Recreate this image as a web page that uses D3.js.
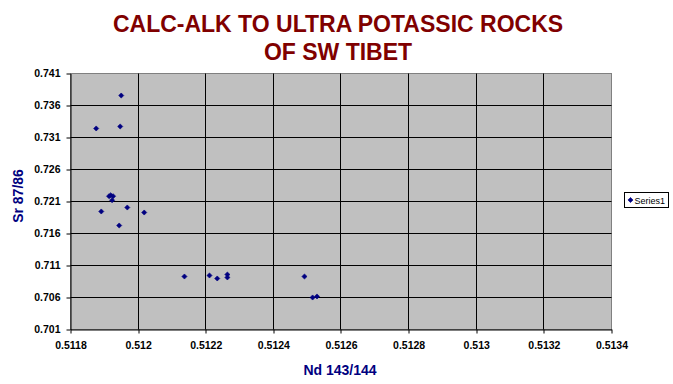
<!DOCTYPE html>
<html>
<head>
<meta charset="utf-8">
<script src="https://cdn.jsdelivr.net/npm/d3@7"></script>
<style>
  html, body { margin: 0; padding: 0; background: #fff; }
  svg { display: block; font-family: Arial, "Liberation Sans", sans-serif; }
</style>
</head>
<body>
<svg id="chart" width="673" height="384"></svg>
<script>
// ---- data ----
const ndValues = [0.51195, 0.511876, 0.511947, 0.511914, 0.511919, 0.511926, 0.511923, 0.511891, 0.511968, 0.512018, 0.511944, 0.512137, 0.512211, 0.512234, 0.512264, 0.512264, 0.512492, 0.512516, 0.512529];
const srValues = [0.73756, 0.73241, 0.73272, 0.72183, 0.72198, 0.72183, 0.72120, 0.71944, 0.72006, 0.71928, 0.71725, 0.70928, 0.70944, 0.70897, 0.70959, 0.70913, 0.70928, 0.70600, 0.70616];
const xTicks = [0.5118, 0.512, 0.5122, 0.5124, 0.5126, 0.5128, 0.513, 0.5132, 0.5134];
const yTicks = [0.701, 0.706, 0.711, 0.716, 0.721, 0.726, 0.731, 0.736, 0.741];
const xTickLabels = ["0.5118", "0.512", "0.5122", "0.5124", "0.5126", "0.5128", "0.513", "0.5132", "0.5134"];
const yTickLabels = ["0.701", "0.706", "0.711", "0.716", "0.721", "0.726", "0.731", "0.736", "0.741"];
const titleLines = ["CALC-ALK TO ULTRA POTASSIC ROCKS", "OF SW TIBET"];
const seriesName = "Series1";

// ---- layout ----
const svg = d3.select("#chart");
const pLeft = 70.5, pRight = 611.5, pTop = 73.5, pBottom = 329.5;

const x = d3.scaleLinear().domain([0.5118, 0.5134]).range([pLeft, pRight]);
const y = d3.scaleLinear().domain([0.701, 0.741]).range([pBottom, pTop]);
const snap = v => Math.round(v - 0.5) + 0.5;

// plot background
svg.append("rect")
  .attr("x", pLeft).attr("y", pTop)
  .attr("width", pRight - pLeft).attr("height", pBottom - pTop)
  .attr("fill", "#C0C0C0")
  .attr("stroke", "#808080").attr("stroke-width", 1);

// gridlines
const grid = svg.append("g");
grid.selectAll("line.h").data(yTicks.slice(1, -1)).join("line")
  .attr("x1", pLeft).attr("x2", pRight)
  .attr("y1", d => snap(y(d))).attr("y2", d => snap(y(d)))
  .attr("stroke", "#000").attr("stroke-width", 1);
grid.selectAll("line.v").data(xTicks.slice(1, -1)).join("line")
  .attr("y1", pTop).attr("y2", pBottom)
  .attr("x1", d => snap(x(d))).attr("x2", d => snap(x(d)))
  .attr("stroke", "#000").attr("stroke-width", 1);

// axes
const xAxis = d3.axisBottom(x).tickValues(xTicks)
  .tickFormat((d, i) => xTickLabels[i]).tickSizeOuter(0).tickSizeInner(4).tickPadding(8);
const gx = svg.append("g").attr("transform", `translate(0,${pBottom})`).call(xAxis);
gx.select(".domain").attr("stroke", "#000").attr("stroke-width", 1);
gx.selectAll(".tick line").attr("stroke", "#000")
  .attr("transform", d => `translate(${snap(x(d)) - x(d)},0)`);
gx.selectAll(".tick text").attr("font-size", "10.5px").attr("font-weight", "bold")
  .attr("fill", "#000").attr("font-family", "Arial, 'Liberation Sans', sans-serif");

const yAxis = d3.axisLeft(y).tickValues(yTicks)
  .tickFormat((d, i) => yTickLabels[i]).tickSizeOuter(0).tickSizeInner(4).tickPadding(6);
const gy = svg.append("g").attr("transform", `translate(${pLeft},0)`).call(yAxis);
gy.select(".domain").attr("stroke", "#000").attr("stroke-width", 1);
gy.selectAll(".tick line").attr("stroke", "#000")
  .attr("transform", d => `translate(0,${snap(y(d)) - y(d)})`);
gy.selectAll(".tick text").attr("font-size", "10.5px").attr("font-weight", "bold")
  .attr("fill", "#000").attr("font-family", "Arial, 'Liberation Sans', sans-serif");

// points
const sym = d3.symbol().type(d3.symbolSquare).size(13);
const pts = ndValues.map((v, i) => ({ x: v, y: srValues[i] }));
svg.append("g").selectAll("path").data(pts).join("path")
  .attr("d", sym)
  .attr("transform", d => `translate(${x(d.x)},${y(d.y)}) rotate(45)`)
  .attr("fill", "#000080").attr("stroke", "#000080").attr("stroke-width", 0.6);

// title
svg.append("g").selectAll("text").data(titleLines).join("text")
  .attr("x", 338).attr("y", (d, i) => 32 + i * 28)
  .attr("text-anchor", "middle")
  .attr("font-size", "23px").attr("font-weight", "bold")
  .attr("fill", "#800000")
  .text(d => d);

// axis titles
svg.append("text")
  .attr("x", 340).attr("y", 375)
  .attr("text-anchor", "middle")
  .attr("font-size", "14px").attr("font-weight", "bold")
  .attr("fill", "#000080")
  .text("Nd 143/144");

svg.append("text")
  .attr("transform", "translate(23,196) rotate(-90)")
  .attr("text-anchor", "middle")
  .attr("font-size", "14px").attr("font-weight", "bold")
  .attr("fill", "#000080")
  .text("Sr 87/86");

// legend
const lg = svg.append("g");
lg.append("rect").attr("x", 624.5).attr("y", 192.5).attr("width", 44).attr("height", 15)
  .attr("fill", "#fff").attr("stroke", "#000").attr("stroke-width", 1);
lg.append("path").attr("d", sym)
  .attr("transform", "translate(630.5,200) rotate(45)")
  .attr("fill", "#000080").attr("stroke", "#000080").attr("stroke-width", 0.6);
lg.append("text").attr("x", 634.5).attr("y", 203.5)
  .attr("font-size", "9px").attr("fill", "#000")
  .text(seriesName);
</script>
</body>
</html>
